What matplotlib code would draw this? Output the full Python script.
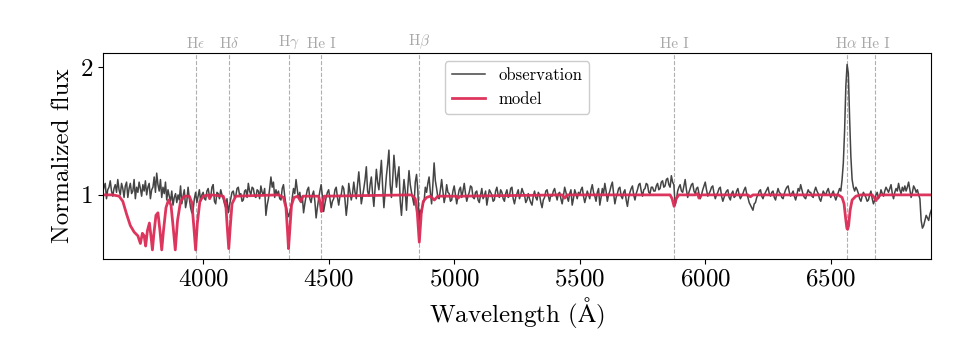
import numpy as np
import matplotlib
matplotlib.use("Agg")
import matplotlib.pyplot as plt

plt.rcParams["font.family"] = "serif"
plt.rcParams["font.serif"] = ["cmr10"]
plt.rcParams["mathtext.fontset"] = "cm"
plt.rcParams["axes.formatter.use_mathtext"] = True

# observed spectrum, 5 A steps from 3600 to 6900 (one row = 100 A)
obs_wave = np.arange(3600, 6901, 5)
obs_flux = [
    1.02, 1.06, 1.09, 0.97, 1.04, 1.06, 1.11, 1.03, 0.99, 1.05, 1.08, 1.02, 1.12, 1.04, 1.00, 1.09, 1.05, 0.98, 1.07, 1.10,
    0.98, 1.05, 1.09, 1.01, 1.03, 1.12, 0.97, 1.06, 1.02, 1.10, 1.05, 0.99, 1.08, 1.03, 1.11, 1.00, 1.06, 1.09, 0.97, 1.04,
    1.06, 1.14, 1.02, 1.17, 1.08, 1.03, 1.12, 0.98, 1.06, 1.01, 1.10, 0.96, 1.04, 0.99, 0.95, 1.03, 0.92, 0.98, 1.01, 0.94,
    1.00, 0.96, 1.07, 0.93, 0.99, 1.04, 0.90, 0.95, 1.06, 0.97, 0.90, 0.86, 0.88, 0.97, 1.02, 0.94, 0.99, 1.04, 0.95, 1.00,
    1.02, 0.97, 0.96, 1.03, 1.05, 0.99, 0.98, 1.06, 1.08, 0.95, 0.93, 1.02, 1.01, 0.97, 1.04, 1.00, 0.97, 0.93, 0.90, 0.97,
    0.86, 0.92, 0.97, 1.02, 1.03, 0.98, 0.99, 1.05, 1.06, 1.00, 1.01, 0.95, 0.96, 1.03, 1.04, 0.98, 1.09, 1.03, 1.00, 1.06,
    1.05, 0.99, 0.98, 1.04, 1.03, 0.97, 1.07, 1.02, 1.00, 1.05, 0.84, 0.92, 0.97, 1.05, 1.14, 1.06, 1.10, 0.98, 1.04, 1.00,
    1.03, 0.97, 0.96, 1.05, 1.08, 0.99, 0.92, 0.87, 0.83, 0.86, 0.90, 0.98, 1.05, 1.01, 1.12, 1.04, 0.97, 1.02, 0.94, 0.99,
    0.86, 0.93, 0.99, 1.04, 1.06, 0.97, 0.94, 1.00, 1.03, 0.95, 0.82, 0.90, 0.97, 1.03, 1.08, 0.99, 0.87, 0.93, 0.98, 1.02,
    1.04, 0.97, 0.90, 0.95, 0.97, 1.04, 1.06, 0.98, 0.92, 0.99, 1.00, 1.07, 1.05, 0.96, 0.84, 0.93, 1.09, 1.02, 0.96, 1.01,
    1.10, 1.02, 0.97, 1.08, 1.18, 1.05, 0.93, 0.99, 1.05, 1.12, 1.22, 1.03, 0.99, 1.08, 1.14, 1.01, 0.91, 1.06, 1.20, 1.10,
    1.04, 1.15, 1.27, 1.06, 0.90, 1.02, 1.15, 1.24, 1.35, 1.08, 0.98, 1.12, 1.31, 1.18, 1.06, 1.15, 1.22, 0.95, 0.84, 0.99,
    1.12, 1.03, 0.88, 1.05, 1.19, 1.08, 1.02, 0.97, 0.92, 1.10, 1.16, 1.04, 0.80, 0.88, 0.86, 0.93, 0.95, 1.06, 1.02, 1.09,
    1.14, 1.02, 0.93, 1.08, 1.25, 1.11, 1.05, 0.98, 0.97, 1.04, 1.12, 1.03, 0.94, 0.99, 1.08, 1.02, 1.01, 0.95, 0.96, 1.03,
    1.07, 1.00, 0.93, 0.99, 1.04, 1.06, 0.98, 1.03, 1.09, 1.01, 0.95, 0.99, 1.02, 1.07, 1.06, 0.98, 0.97, 1.02, 1.03, 0.96,
    0.94, 1.00, 1.05, 0.97, 0.99, 1.03, 0.92, 0.98, 1.04, 1.02, 1.00, 0.95, 0.96, 1.03, 1.06, 1.00, 0.98, 1.04, 1.02, 0.97,
    0.95, 1.01, 1.04, 0.98, 0.99, 1.05, 1.06, 0.97, 0.93, 0.98, 1.01, 1.04, 0.97, 1.00, 1.05, 1.02, 1.00, 0.94, 0.96, 1.01,
    0.97, 0.94, 0.92, 0.99, 1.03, 0.98, 0.96, 1.02, 1.00, 0.94, 0.90, 0.96, 0.98, 1.03, 1.04, 0.99, 0.95, 1.00, 0.99, 1.03,
    1.05, 1.00, 0.96, 1.01, 1.02, 0.97, 0.93, 0.99, 1.06, 1.02, 0.98, 0.95, 1.01, 1.04, 0.92, 0.97, 1.04, 1.01, 0.97, 1.02,
    1.00, 1.04, 1.06, 0.99, 0.94, 0.98, 1.03, 1.00, 0.97, 1.04, 1.08, 1.02, 0.99, 0.95, 1.02, 1.05, 0.92, 0.98, 1.05, 1.01,
    1.09, 1.03, 0.95, 1.00, 1.03, 1.07, 1.10, 1.01, 0.93, 0.98, 1.01, 1.05, 1.06, 0.99, 0.97, 1.02, 1.04, 0.96, 0.91, 0.98,
    1.02, 1.05, 1.07, 1.00, 0.96, 1.01, 1.04, 1.08, 1.09, 1.03, 0.99, 1.04, 1.05, 1.09, 1.08, 1.02, 1.01, 1.06, 1.06, 1.03,
    1.03, 1.07, 1.09, 1.04, 1.05, 1.10, 1.11, 1.06, 1.07, 1.12, 1.13, 1.08, 1.06, 1.15, 1.10, 1.08, 0.92, 0.96, 1.03, 1.06,
    1.08, 1.03, 1.02, 1.07, 1.12, 1.04, 0.98, 1.02, 1.05, 1.08, 1.09, 1.03, 1.01, 1.05, 1.06, 1.01, 0.97, 1.00, 1.04, 1.07,
    1.10, 1.04, 0.99, 1.01, 1.03, 1.06, 1.07, 1.01, 0.97, 1.00, 1.02, 1.05, 1.06, 0.99, 0.95, 0.98, 1.01, 1.03, 1.04, 0.98,
    0.96, 1.01, 1.03, 0.98, 0.99, 1.03, 1.05, 1.00, 0.97, 0.99, 1.01, 1.04, 1.06, 1.01, 0.98, 0.94, 0.92, 0.90, 0.88, 0.93,
    0.94, 0.98, 1.00, 1.03, 1.04, 0.99, 0.97, 1.00, 1.02, 1.04, 1.06, 1.01, 0.99, 1.02, 1.03, 0.98, 0.96, 1.01, 1.05, 1.02,
    1.01, 0.98, 0.97, 1.01, 1.04, 1.06, 1.07, 1.02, 0.99, 1.01, 1.03, 0.99, 0.96, 1.00, 1.05, 1.03, 1.08, 1.04, 1.00, 0.98,
    0.97, 1.01, 1.04, 1.02, 1.02, 0.99, 0.98, 1.03, 1.06, 1.03, 1.01, 0.97, 0.95, 0.99, 1.03, 1.01, 1.00, 1.03, 1.05, 1.01,
    0.98, 1.01, 1.03, 0.99, 0.96, 0.99, 1.02, 1.05, 1.03, 1.12, 1.25, 1.50, 1.85, 2.02, 1.95, 1.60, 1.30, 1.12, 1.06, 1.03,
    1.06, 1.04, 1.01, 0.97, 0.95, 0.99, 1.02, 1.00, 0.98, 0.95, 0.96, 1.00, 1.03, 0.97, 0.93, 0.96, 1.00, 1.02, 0.97, 0.99,
    1.04, 1.01, 0.99, 1.03, 1.06, 1.04, 1.02, 1.05, 1.08, 1.01, 0.97, 1.02, 1.05, 1.03, 1.09, 1.04, 1.01, 1.06, 1.03, 1.07,
    1.03, 1.06, 1.10, 1.04, 0.98, 1.02, 1.07, 1.05, 1.02, 1.04, 1.00, 0.97, 0.80, 0.74, 0.76, 0.80, 0.84, 0.82, 0.80, 0.85,
    0.88,
]

# model spectrum knots
model_wave = [
    3600, 3640, 3665, 3680, 3695, 3710, 3725, 3740, 3750, 3758, 3765, 3771,
    3778, 3786, 3792, 3798, 3804, 3812, 3820, 3828, 3835, 3842, 3852, 3862,
    3872, 3880, 3889, 3898, 3910, 3925, 3945, 3955, 3963, 3970, 3977, 3987,
    4000, 4020, 4026, 4032, 4080, 4090, 4096, 4102, 4108, 4115, 4130, 4300,
    4320, 4330, 4336, 4340, 4345, 4352, 4362, 4378, 4388, 4398, 4460, 4466,
    4471, 4476, 4482, 4830, 4845, 4853, 4861, 4869, 4877, 4890, 4905, 4921,
    4935, 5008, 5016, 5024, 5430, 5440, 5450, 5860, 5868, 5876, 5884, 5895,
    5960, 5968, 5975, 5985, 6170, 6180, 6190, 6530, 6545, 6553, 6559, 6564,
    6567, 6571, 6577, 6585, 6600, 6620, 6665, 6673, 6680, 6687, 6697, 6900,
]
model_flux = [
    1.00, 1.00, 0.99, 0.95, 0.85, 0.76, 0.71, 0.68, 0.62, 0.70, 0.68, 0.60,
    0.72, 0.78, 0.68, 0.57, 0.70, 0.84, 0.86, 0.72, 0.57, 0.72, 0.90, 0.96,
    0.92, 0.76, 0.57, 0.80, 0.95, 0.99, 0.99, 0.94, 0.75, 0.57, 0.78, 0.95,
    0.99, 1.00, 0.97, 1.00, 0.99, 0.93, 0.75, 0.58, 0.75, 0.93, 0.99, 1.00,
    0.98, 0.90, 0.72, 0.58, 0.72, 0.92, 0.98, 0.99, 0.95, 0.99, 0.99, 0.94,
    0.87, 0.94, 0.99, 1.00, 0.97, 0.86, 0.63, 0.86, 0.95, 0.98, 0.99, 0.96,
    0.99, 0.99, 0.975, 0.99, 1.00, 0.975, 1.00, 1.00, 0.97, 0.91, 0.97, 1.00,
    1.00, 1.01, 0.975, 1.00, 1.00, 0.985, 1.00, 1.00, 0.98, 0.93, 0.82, 0.74,
    0.73, 0.76, 0.88, 0.96, 0.99, 1.00, 1.00, 0.98, 0.955, 0.98, 1.00, 1.00,
]

line_wave = [3970, 4102, 4340, 4471, 4861, 5876, 6563, 6678]
line_names = [r"H$\epsilon$", r"H$\delta$", r"H$\gamma$", "He I", r"H$\beta$",
              "He I", r"H$\alpha$", "He I"]

fig = plt.figure(figsize=(9.6, 3.6), dpi=100)
ax = fig.add_axes([0.107, 0.281, 0.863, 0.572])

for w, name in zip(line_wave, line_names):
    ax.axvline(w, color="#b0b0b0", ls="--", lw=0.8, zorder=0)
    ax.text(w, 2.125, name, color="#a8a8a8", fontsize=11,
            ha="center", va="bottom")

ax.plot(obs_wave, obs_flux, color="#444444", lw=1.1, label="observation")
ax.plot(model_wave, model_flux, color="#dc2b55", lw=2.0, alpha=0.95,
        label="model")

ax.set_xlim(3600, 6900)
ax.set_ylim(0.5, 2.11)
ax.set_xticks([4000, 4500, 5000, 5500, 6000, 6500])
ax.set_yticks([1, 2])
ax.tick_params(labelsize=18)
ax.set_xlabel(r"Wavelength ($\mathrm{\AA}$)", fontsize=18)
ax.set_ylabel("Normalized flux", fontsize=18)

ax.legend(loc="upper center", fontsize=12, framealpha=1, edgecolor="#cccccc")

fig.savefig("out.png", dpi=100)
